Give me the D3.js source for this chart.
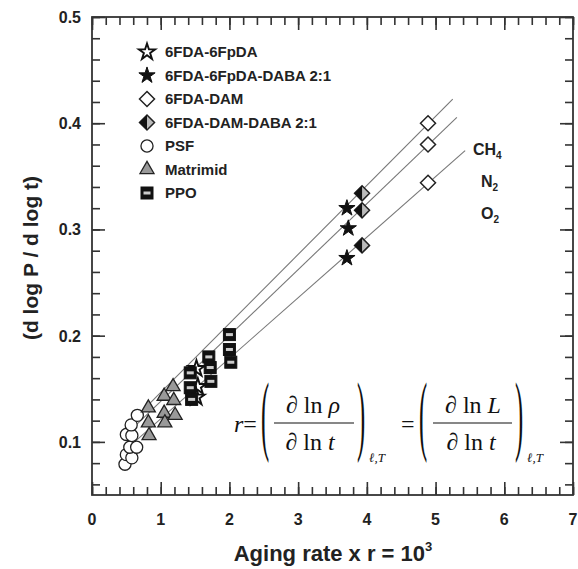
<!DOCTYPE html>
<html>
<head>
<meta charset="utf-8">
<script src="https://cdn.jsdelivr.net/npm/d3@7"></script>
<style>
  body { margin: 0; background: #fff; }
  text { font-family: "Liberation Sans", Arial, sans-serif; }
  .math { font-family: "Liberation Serif", "Times New Roman", serif; }
</style>
</head>
<body>
<div id="chart"></div>
<script>
// ---- data ----
const legendNames = ["6FDA-6FpDA", "6FDA-6FpDA-DABA 2:1", "6FDA-DAM", "6FDA-DAM-DABA 2:1", "PSF", "Matrimid", "PPO"];

const fpdaX = [1.52, 1.54, 1.52];
const fpdaY = [0.169, 0.152, 0.142];

const fpdaDabaX = [3.71, 3.73, 3.71];
const fpdaDabaY = [0.320, 0.301, 0.273];

const damX = [4.89, 4.89, 4.89];
const damY = [0.400, 0.380, 0.344];

const damDabaX = [3.93, 3.93, 3.93];
const damDabaY = [0.334, 0.318, 0.285];

const psfX = [0.48, 0.50, 0.58, 0.55, 0.65, 0.50, 0.58, 0.57, 0.66];
const psfY = [0.079, 0.088, 0.085, 0.095, 0.095, 0.107, 0.106, 0.116, 0.125];

const matrimidX = [0.82, 0.82, 0.83, 1.05, 1.05, 1.06, 1.18, 1.19, 1.21];
const matrimidY = [0.132, 0.118, 0.106, 0.143, 0.127, 0.118, 0.152, 0.139, 0.125];

const ppoX = [1.43, 1.43, 1.45, 1.70, 1.72, 1.73, 2.00, 2.00, 2.02];
const ppoY = [0.165, 0.151, 0.140, 0.180, 0.170, 0.157, 0.201, 0.187, 0.175];

// fitted lines, CH4 / N2 / O2
const gasNames = ["CH4", "N2", "O2"];
const lineSlope = [0.065, 0.062, 0.057];
const lineIntercept = [0.0815, 0.0762, 0.0647];
const lineXStart = [0.45, 0.45, 0.45];
const lineXEnd = [5.25, 5.31, 5.43];

const xTicks = [0, 1, 2, 3, 4, 5, 6, 7];
const yTicks = [0.1, 0.2, 0.3, 0.4, 0.5];

// ---- layout ----
const W = 578, H = 569;
const pl = 92, pt = 17, pr = 573, pb = 495;

const svg = d3.select("#chart").append("svg")
  .attr("width", W).attr("height", H);

const x = d3.scaleLinear().domain([0, 7]).range([pl, pr]);
const y = d3.scaleLinear().domain([0.05, 0.5]).range([pb, pt]);

// frame with inward ticks on all four sides
const axisColor = "#333";
function styleAxis(g) {
  g.select(".domain").remove();
  g.selectAll("line").attr("stroke", axisColor).attr("stroke-width", 1.6);
  g.selectAll("text").remove();
}
const xMinor = d3.range(0, 7.001, 0.2);
const yMinor = d3.range(0.06, 0.5001, 0.02);
const minorLen = 8, majorLen = 13;

svg.append("g").attr("transform", `translate(0,${pb})`)
  .call(d3.axisBottom(x).tickValues(xMinor).tickSize(-minorLen)).call(styleAxis);
svg.append("g").attr("transform", `translate(0,${pb})`)
  .call(d3.axisBottom(x).tickValues(xTicks).tickSize(-majorLen)).call(styleAxis);
svg.append("g").attr("transform", `translate(0,${pt})`)
  .call(d3.axisTop(x).tickValues(xMinor).tickSize(-minorLen)).call(styleAxis);
svg.append("g").attr("transform", `translate(0,${pt})`)
  .call(d3.axisTop(x).tickValues(xTicks).tickSize(-majorLen)).call(styleAxis);
svg.append("g").attr("transform", `translate(${pl},0)`)
  .call(d3.axisLeft(y).tickValues(yMinor).tickSize(-minorLen)).call(styleAxis);
svg.append("g").attr("transform", `translate(${pl},0)`)
  .call(d3.axisLeft(y).tickValues(yTicks).tickSize(-majorLen)).call(styleAxis);
svg.append("g").attr("transform", `translate(${pr},0)`)
  .call(d3.axisRight(y).tickValues(yMinor).tickSize(-minorLen)).call(styleAxis);
svg.append("g").attr("transform", `translate(${pr},0)`)
  .call(d3.axisRight(y).tickValues(yTicks).tickSize(-majorLen)).call(styleAxis);

svg.append("rect")
  .attr("x", pl).attr("y", pt)
  .attr("width", pr - pl).attr("height", pb - pt)
  .attr("fill", "none").attr("stroke", axisColor).attr("stroke-width", 1.8);

// tick labels
svg.append("g").selectAll("text").data(xTicks).join("text")
  .attr("x", d => x(d)).attr("y", pb + 30)
  .attr("text-anchor", "middle")
  .attr("font-size", 16).attr("font-weight", "bold").attr("fill", "#222")
  .text(d => d);
svg.append("g").selectAll("text").data(yTicks).join("text")
  .attr("x", pl - 11).attr("y", d => y(d) + 6)
  .attr("text-anchor", "end")
  .attr("font-size", 16).attr("font-weight", "bold").attr("fill", "#222")
  .text(d => d3.format(".1f")(d));

// axis titles
const xt = svg.append("text")
  .attr("x", 333).attr("y", 561)
  .attr("text-anchor", "middle")
  .attr("font-size", 22).attr("font-weight", "bold").attr("fill", "#222");
xt.append("tspan").text("Aging rate x r = 10");
xt.append("tspan").attr("font-size", 13).attr("dy", -10).text("3");

svg.append("text")
  .attr("transform", `translate(38,258) rotate(-90)`)
  .attr("text-anchor", "middle")
  .attr("font-size", 21).attr("font-weight", "bold").attr("fill", "#222")
  .text("(d log P / d log t)");

// fitted lines
svg.append("g").selectAll("line").data(gasNames).join("line")
  .attr("x1", (d, i) => x(lineXStart[i]))
  .attr("y1", (d, i) => y(lineIntercept[i] + lineSlope[i] * lineXStart[i]))
  .attr("x2", (d, i) => x(lineXEnd[i]))
  .attr("y2", (d, i) => y(lineIntercept[i] + lineSlope[i] * lineXEnd[i]))
  .attr("stroke", "#777").attr("stroke-width", 1.1);

// gas labels
const gasLabelX = [473, 481, 481];
const gasLabelY = [155, 187, 219];
gasNames.forEach((g, i) => {
  const t = svg.append("text")
    .attr("x", gasLabelX[i]).attr("y", gasLabelY[i])
    .attr("font-size", 16).attr("font-weight", "bold").attr("fill", "#222");
  t.append("tspan").text(g.slice(0, g.length - 1));
  t.append("tspan").attr("font-size", 10).attr("dy", 4).text(g.slice(-1));
});

// ---- markers ----
const star = d3.symbol().type(d3.symbolStar).size(82)();
const circle = d3.symbol().type(d3.symbolCircle).size(115)();
const tri = d3.symbol().type(d3.symbolTriangle).size(85)();
const dia = "M0,-7.5L7.5,0L0,7.5L-7.5,0Z";
const diaLeft = "M0,-7.5L0,7.5L-7.5,0Z";

function drawMarker(g, kind) {
  if (kind === 0) {
    g.append("path").attr("d", star).attr("fill", "#fff").attr("stroke", "#111").attr("stroke-width", 1.9);
  } else if (kind === 1) {
    g.append("path").attr("d", star).attr("fill", "#111").attr("stroke", "#111").attr("stroke-width", 1);
  } else if (kind === 2) {
    g.append("path").attr("d", dia).attr("fill", "#fff").attr("stroke", "#222").attr("stroke-width", 1.5);
  } else if (kind === 3) {
    g.append("path").attr("d", dia).attr("fill", "#bbb").attr("stroke", "#222").attr("stroke-width", 1.5);
    g.append("path").attr("d", diaLeft).attr("fill", "#111");
  } else if (kind === 4) {
    g.append("path").attr("d", circle).attr("fill", "#fff").attr("stroke", "#222").attr("stroke-width", 1.3);
  } else if (kind === 5) {
    g.append("path").attr("d", tri).attr("fill", "#999").attr("stroke", "#222").attr("stroke-width", 1.3);
  } else if (kind === 6) {
    g.append("rect").attr("x", -6).attr("y", -6).attr("width", 12).attr("height", 12)
      .attr("fill", "#111").attr("stroke", "#111");
    g.append("rect").attr("x", -3.5).attr("y", -1.5).attr("width", 7).attr("height", 3)
      .attr("fill", "#ccc");
  }
}

const seriesX = [fpdaX, fpdaDabaX, damX, damDabaX, psfX, matrimidX, ppoX];
const seriesY = [fpdaY, fpdaDabaY, damY, damDabaY, psfY, matrimidY, ppoY];
const drawOrder = [4, 5, 0, 6, 1, 3, 2];

drawOrder.forEach(k => {
  const pts = seriesX[k].map((v, i) => [v, seriesY[k][i]]);
  svg.append("g").selectAll("g").data(pts).join("g")
    .attr("transform", d => `translate(${x(d[0])},${y(d[1])})`)
    .each(function () { drawMarker(d3.select(this), k); });
});

// legend
const legend = svg.append("g");
legendNames.forEach((name, i) => {
  const ly = 52 + i * 23.5;
  const g = legend.append("g").attr("transform", `translate(147,${ly})`);
  drawMarker(g, i);
  legend.append("text")
    .attr("x", 165).attr("y", ly + 5)
    .attr("font-size", 15).attr("font-weight", "bold").attr("fill", "#222")
    .text(name);
});

// formula
const fs = 24;
const m = svg.append("g").attr("class", "math").attr("fill", "#111");
function mtext(xp, yp, size, parts, anchor) {
  const t = m.append("text").attr("class", "math")
    .attr("x", xp).attr("y", yp).attr("font-size", size)
    .attr("text-anchor", anchor || "start");
  parts.forEach(p => t.append("tspan").attr("font-style", p[1] ? "italic" : "normal").text(p[0]));
  return t;
}
function paren(xp, ch) {
  m.append("text").attr("class", "math")
    .attr("transform", `translate(${xp},444) scale(0.28,1)`)
    .attr("font-size", 88).text(ch);
}
mtext(234, 432, fs, [["r", true], ["=", false]]);
paren(261, "(");
mtext(313, 413, fs, [["\u2202 ln ", false], ["\u03C1", true]], "middle");
m.append("line").attr("x1", 274).attr("x2", 354).attr("y1", 423).attr("y2", 423)
  .attr("stroke", "#111").attr("stroke-width", 1.1);
mtext(310, 450, fs, [["\u2202 ln ", false], ["t", true]], "middle");
paren(357, ")");
mtext(369, 462, 13, [["\u2113,T", true]]);
mtext(401, 432, fs, [["=", false]]);
paren(419, "(");
mtext(473, 413, fs, [["\u2202 ln ", false], ["L", true]], "middle");
m.append("line").attr("x1", 433).attr("x2", 512).attr("y1", 423).attr("y2", 423)
  .attr("stroke", "#111").attr("stroke-width", 1.1);
mtext(471, 450, fs, [["\u2202 ln ", false], ["t", true]], "middle");
paren(515, ")");
mtext(527, 462, 13, [["\u2113,T", true]]);
</script>
</body>
</html>
